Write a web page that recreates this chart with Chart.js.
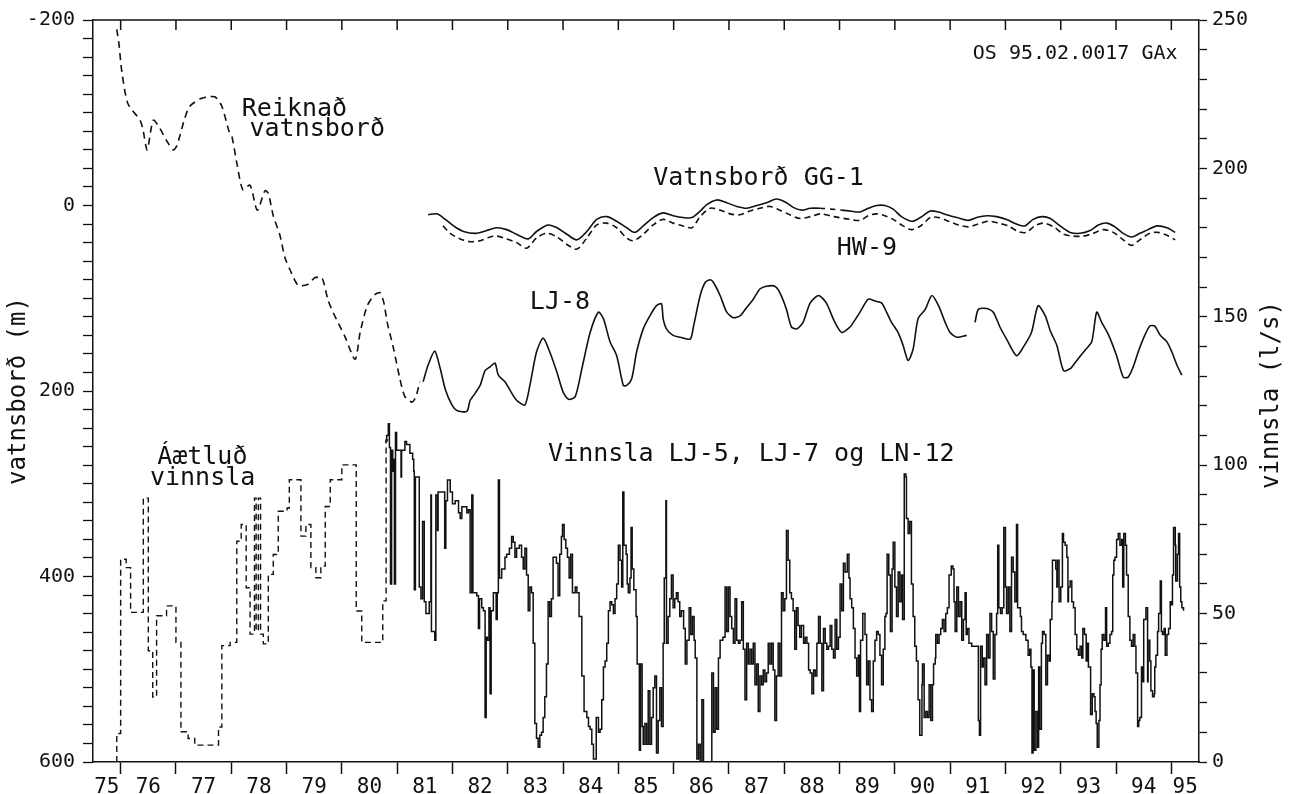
<!DOCTYPE html>
<html>
<head>
<meta charset="utf-8">
<title>Vatnsborð og vinnsla 1975-1995</title>
<script src="https://cdn.jsdelivr.net/npm/chart.js@4/dist/chart.umd.min.js"></script>
<style>
  html, body { margin: 0; padding: 0; background: #fff; }
  #wrap { width: 1300px; height: 794px; }
</style>
</head>
<body>
<div id="wrap"><canvas id="chart" width="1300" height="794"></canvas></div>
<script>
// year (decimal, 75 = 1975), value pairs
// vatnsborð series are in m (left axis), vinnsla series in l/s (right axis)

const yearLabels = ['75','76','77','78','79','80','81','82','83','84','85','86','87','88','89','90','91','92','93','94','95'];

const reiknad = [
  [75.93,-190],[75.97,-174],[76.02,-145],[76.13,-110],[76.35,-92],[76.40,-83],[76.48,-60],[76.59,-92],
  [76.71,-83],[76.84,-69],[76.95,-60],[77.02,-65],[77.07,-75],[77.16,-94],[77.25,-107],[77.44,-115],
  [77.58,-117],[77.71,-117],[77.83,-107],[77.96,-80],[78.01,-75],[78.10,-46],[78.21,-17],[78.34,-22],
  [78.47,5],[78.61,-16],[78.67,-13],[78.76,11],[78.88,32],[78.97,56],[79.06,69],[79.21,86],[79.39,85],
  [79.51,78],[79.64,78],[79.75,102],[79.84,115],[80.06,142],[80.24,166],[80.33,137],[80.46,108],
  [80.60,96],[80.69,94],[80.76,105],[80.82,126],[80.93,153],[81.05,187],[81.14,206],[81.27,212],
  [81.34,206],[81.41,190]
];

const lj8 = [
  [81.47,190],[81.56,172],[81.68,157],[81.78,176],[81.87,198],[81.99,215],[82.08,221],[82.26,222],
  [82.32,210],[82.38,205],[82.50,194],[82.59,178],[82.68,174],[82.77,170],[82.83,183],[82.95,190],
  [83.04,199],[83.16,210],[83.31,215],[83.40,194],[83.52,158],[83.64,143],[83.76,158],[83.89,180],
  [84.00,201],[84.10,209],[84.22,206],[84.34,176],[84.49,137],[84.64,115],[84.73,122],[84.85,147],
  [84.97,162],[85.09,194],[85.15,194],[85.24,187],[85.33,158],[85.45,133],[85.57,119],[85.69,108],
  [85.78,106],[85.81,122],[85.87,133],[85.99,140],[86.12,142],[86.30,144],[86.36,130],[86.48,97],
  [86.57,83],[86.66,80],[86.72,83],[86.84,97],[86.96,115],[87.08,121],[87.20,119],[87.32,110],
  [87.44,101],[87.56,90],[87.68,87],[87.83,87],[87.92,94],[88.04,112],[88.13,131],[88.23,133],
  [88.34,126],[88.47,105],[88.62,97],[88.76,105],[88.90,124],[89.04,137],[89.19,131],[89.25,126],
  [89.37,115],[89.52,101],[89.64,103],[89.76,105],[89.85,115],[89.94,126],[90.06,137],[90.15,151],
  [90.24,167],[90.33,155],[90.42,122],[90.55,112],[90.67,97],[90.79,108],[90.91,126],[91.00,137],
  [91.12,142],[91.30,140],[91.37,null],[91.45,126],[91.51,112],[91.66,111],[91.78,115],[91.90,131],
  [92.02,144],[92.20,162],[92.32,153],[92.47,137],[92.59,108],[92.72,119],[92.81,135],[92.93,151],
  [93.05,178],[93.17,176],[93.29,167],[93.44,156],[93.56,147],[93.65,115],[93.74,126],[93.86,139],
  [94.01,162],[94.13,185],[94.22,185],[94.31,174],[94.40,158],[94.49,144],[94.61,130],[94.70,130],
  [94.80,140],[94.92,147],[95.01,158],[95.10,172],[95.19,183]
];

// the missing stretch around 88.7-89.0 is bridged with a dashed line
const gg1 = [
  [81.56,10],[81.72,9],[81.87,15],[82.02,22],[82.20,28],[82.44,30],[82.62,27],[82.80,24],[82.98,26],
  [83.16,31],[83.37,36],[83.52,28],[83.73,21],[83.89,24],[84.07,31],[84.25,37],[84.43,28],[84.61,15],
  [84.79,12],[84.97,17],[85.15,24],[85.30,29],[85.45,22],[85.63,13],[85.81,8],[85.99,11],[86.17,13],
  [86.33,13],[86.48,6],[86.60,-1],[86.78,-6],[86.96,-3],[87.14,1],[87.32,3],[87.50,0],[87.68,-3],
  [87.86,-7],[88.04,-3],[88.16,2],[88.32,5],[88.47,3],[88.65,3],[88.85,null],[89.04,5],[89.19,6],
  [89.37,7],[89.52,3],[89.67,0],[89.82,0],[89.97,4],[90.12,12],[90.31,17],[90.46,13],[90.64,6],
  [90.79,7],[90.94,10],[91.12,13],[91.33,16],[91.48,13],[91.66,11],[91.84,12],[92.02,15],[92.20,20],
  [92.35,22],[92.50,15],[92.66,12],[92.81,14],[92.99,22],[93.17,29],[93.35,30],[93.53,27],[93.68,21],
  [93.83,19],[93.98,23],[94.13,30],[94.28,34],[94.43,30],[94.58,26],[94.74,22],[94.92,24],[95.07,29]
];

const hw9 = [
  [81.83,22],[81.96,30],[82.14,36],[82.32,39],[82.50,38],[82.68,34],[82.80,33],[82.98,36],[83.16,40],
  [83.34,46],[83.52,35],[83.70,30],[83.89,34],[84.07,42],[84.25,47],[84.43,35],[84.61,21],[84.79,19],
  [84.97,24],[85.15,35],[85.27,38],[85.45,31],[85.63,21],[85.81,15],[85.99,19],[86.17,22],[86.33,24],
  [86.48,12],[86.66,3],[86.84,5],[87.02,9],[87.20,10],[87.38,6],[87.56,3],[87.74,1],[87.92,5],
  [88.10,10],[88.29,14],[88.47,12],[88.65,9],[88.90,12],[89.19,15],[89.37,16],[89.52,11],[89.67,9],
  [89.82,11],[89.97,15],[90.15,22],[90.31,26],[90.49,21],[90.64,13],[90.79,13],[90.97,17],[91.15,21],
  [91.33,23],[91.51,20],[91.69,17],[91.87,19],[92.05,22],[92.23,28],[92.38,29],[92.53,22],[92.68,19],
  [92.87,23],[93.05,31],[93.23,33],[93.41,33],[93.59,30],[93.77,26],[93.95,29],[94.13,37],[94.28,43],
  [94.43,37],[94.61,30],[94.76,29],[94.92,32],[95.07,37]
];

// estimated production before metering (stepped)
const aetlud = [
  [75.93,0],[75.93,9.6],[76.00,68.3],[76.10,65.5],[76.18,50.4],[76.41,88.9],[76.50,37.5],[76.58,21.9],
  [76.65,49.3],[76.83,52.6],[77.00,40.3],[77.09,10.2],[77.22,7.9],[77.34,5.7],[77.77,11.8],[77.83,39.2],
  [77.98,40.3],[78.10,74.4],[78.18,80.0],[78.27,58.7],[78.34,43.1],[78.42,88.9],[78.45,44.2],[78.49,88.9],
  [78.53,43.1],[78.58,39.8],[78.67,63.2],[78.76,69.9],[78.85,84.5],[79.01,85.6],[79.05,95.1],[79.26,76.1],
  [79.35,80.0],[79.44,65.5],[79.53,62.1],[79.62,66.0],[79.70,86.1],[79.79,95.1],[80.00,100.1],[80.26,50.9],
  [80.36,40.3],[80.74,54.3],[80.80,108.5],[80.84,108.5]
];

// metered production LJ-5, LJ-7 og LN-12 (stepped)
const vinnsla = [
  [80.78,108],[80.81,110],[80.84,114],[80.86,106],[80.88,60],[80.90,105],[80.92,98],[80.93,102],[80.95,60],
  [80.97,111],[80.99,105],[81.05,105],[81.07,96],[81.08,105],[81.14,108],[81.17,107],[81.23,104],[81.28,102],
  [81.30,98],[81.31,58],[81.33,96],[81.38,96],[81.40,59],[81.43,55],[81.46,81],[81.49,54],[81.52,50],
  [81.58,54],[81.61,90],[81.62,44],[81.65,44],[81.68,41],[81.70,90],[81.73,78],[81.74,91],[81.80,91],
  [81.83,91],[81.86,72],[81.88,88],[81.91,95],[81.96,91],[82.00,87],[82.05,88],[82.11,84],[82.14,82],
  [82.17,86],[82.23,86],[82.26,84],[82.29,85],[82.32,57],[82.35,90],[82.37,57],[82.44,56],[82.47,45],
  [82.49,55],[82.53,52],[82.56,51],[82.59,15],[82.61,42],[82.63,41],[82.66,52],[82.68,23],[82.70,51],
  [82.74,57],[82.79,48],[82.81,57],[82.83,95],[82.85,62],[82.89,65],[82.95,69],[82.98,70],[83.03,72],
  [83.07,76],[83.10,74],[83.13,69],[83.16,72],[83.21,73],[83.25,69],[83.28,65],[83.31,72],[83.34,63],
  [83.37,51],[83.40,59],[83.43,57],[83.46,40],[83.49,13],[83.52,8],[83.55,5],[83.58,9],[83.61,10],
  [83.64,15],[83.67,22],[83.70,33],[83.73,54],[83.76,49],[83.79,55],[83.82,69],[83.85,69],[83.88,67],
  [83.91,56],[83.94,70],[83.97,76],[83.99,80],[84.02,75],[84.05,72],[84.08,69],[84.11,62],[84.14,70],
  [84.17,57],[84.22,59],[84.25,57],[84.29,49],[84.34,29],[84.38,17],[84.43,15],[84.46,12],[84.49,11],
  [84.52,6],[84.55,1],[84.58,1],[84.60,15],[84.64,10],[84.67,11],[84.70,21],[84.73,32],[84.76,34],
  [84.79,40],[84.82,51],[84.85,54],[84.88,53],[84.91,50],[84.94,55],[84.97,60],[85.00,73],[85.03,68],
  [85.06,59],[85.08,91],[85.10,73],[85.14,70],[85.16,60],[85.18,57],[85.21,62],[85.23,79],[85.25,65],
  [85.28,58],[85.32,49],[85.34,33],[85.37,33],[85.38,4],[85.40,33],[85.43,12],[85.45,6],[85.48,13],
  [85.51,6],[85.54,24],[85.57,6],[85.60,15],[85.63,25],[85.66,29],[85.69,3],[85.72,14],[85.75,25],
  [85.78,12],[85.81,40],[85.83,62],[85.86,88],[85.87,40],[85.90,49],[85.93,55],[85.96,63],[85.99,52],
  [86.02,55],[86.05,57],[86.08,54],[86.11,49],[86.14,51],[86.18,45],[86.21,33],[86.24,41],[86.28,52],
  [86.31,43],[86.34,49],[86.37,41],[86.39,35],[86.42,1],[86.45,6],[86.48,0],[86.51,21],[86.54,0],
  [86.66,0],[86.69,30],[86.72,10],[86.75,25],[86.78,11],[86.81,35],[86.84,41],[86.89,42],[86.93,59],
  [86.96,44],[86.99,59],[87.02,49],[87.05,45],[87.08,40],[87.11,55],[87.14,41],[87.17,40],[87.20,41],
  [87.23,54],[87.26,38],[87.29,21],[87.32,40],[87.35,33],[87.38,38],[87.41,33],[87.44,40],[87.47,26],
  [87.50,33],[87.53,17],[87.56,29],[87.59,26],[87.62,31],[87.65,27],[87.68,30],[87.71,40],[87.74,33],
  [87.77,40],[87.80,31],[87.83,14],[87.86,29],[87.89,40],[87.92,29],[87.95,57],[87.98,51],[88.01,55],
  [88.04,78],[88.07,68],[88.10,57],[88.13,55],[88.16,51],[88.19,38],[88.22,52],[88.25,46],[88.28,42],
  [88.31,46],[88.35,40],[88.38,42],[88.41,40],[88.44,31],[88.47,30],[88.50,23],[88.53,31],[88.56,29],
  [88.59,40],[88.62,49],[88.65,40],[88.68,24],[88.71,45],[88.74,40],[88.77,38],[88.80,39],[88.83,46],
  [88.86,38],[88.89,35],[88.92,48],[88.95,38],[88.98,42],[89.01,60],[89.04,51],[89.07,67],[89.10,64],
  [89.14,70],[89.17,62],[89.19,55],[89.22,52],[89.25,45],[89.28,35],[89.31,29],[89.34,36],[89.36,17],
  [89.38,41],[89.42,50],[89.46,43],[89.49,26],[89.52,34],[89.55,21],[89.58,17],[89.61,34],[89.64,41],
  [89.67,44],[89.70,43],[89.73,36],[89.76,26],[89.79,38],[89.82,49],[89.84,50],[89.86,70],[89.89,63],
  [89.92,44],[89.95,65],[89.97,74],[90.00,59],[90.03,49],[90.06,64],[90.09,54],[90.12,63],[90.14,48],
  [90.17,97],[90.20,96],[90.21,82],[90.24,77],[90.27,81],[90.30,60],[90.33,49],[90.36,39],[90.39,34],
  [90.42,21],[90.45,9],[90.49,26],[90.50,33],[90.53,15],[90.56,17],[90.59,15],[90.62,26],[90.65,14],
  [90.68,26],[90.70,33],[90.73,35],[90.74,43],[90.77,40],[90.80,43],[90.83,45],[90.86,48],[90.89,44],
  [90.92,50],[90.95,52],[90.98,63],[91.02,66],[91.05,65],[91.07,54],[91.09,44],[91.12,59],[91.15,49],
  [91.18,54],[91.21,41],[91.24,48],[91.27,57],[91.29,43],[91.31,45],[91.34,40],[91.39,39],[91.48,39],
  [91.51,14],[91.53,9],[91.55,39],[91.58,32],[91.60,35],[91.63,26],[91.66,43],[91.69,35],[91.72,50],
  [91.75,44],[91.78,28],[91.81,43],[91.84,50],[91.86,73],[91.88,52],[91.91,50],[91.94,52],[91.97,79],
  [92.00,59],[92.02,50],[92.05,59],[92.08,44],[92.11,69],[92.14,64],[92.17,54],[92.20,80],[92.22,52],
  [92.25,52],[92.27,49],[92.29,44],[92.32,43],[92.37,41],[92.41,36],[92.44,38],[92.46,32],[92.48,3],
  [92.50,31],[92.52,4],[92.55,17],[92.58,5],[92.60,32],[92.62,11],[92.65,40],[92.67,44],[92.70,43],
  [92.73,26],[92.76,36],[92.79,34],[92.81,48],[92.84,54],[92.85,68],[92.88,68],[92.91,65],[92.93,59],
  [92.94,68],[92.97,54],[93.00,59],[93.03,77],[93.05,74],[93.08,73],[93.11,69],[93.13,54],[93.14,59],
  [93.17,61],[93.20,54],[93.23,52],[93.26,43],[93.29,38],[93.32,36],[93.35,39],[93.38,35],[93.40,45],
  [93.43,43],[93.46,34],[93.48,40],[93.50,32],[93.54,16],[93.57,23],[93.60,22],[93.62,17],[93.64,13],
  [93.66,5],[93.69,14],[93.71,26],[93.73,38],[93.75,43],[93.78,41],[93.81,52],[93.83,39],[93.86,40],
  [93.89,43],[93.92,44],[93.94,63],[93.96,68],[93.98,69],[94.01,75],[94.04,77],[94.07,73],[94.10,75],
  [94.12,59],[94.14,77],[94.17,73],[94.19,63],[94.22,49],[94.25,41],[94.28,39],[94.31,43],[94.34,39],
  [94.36,30],[94.39,12],[94.41,14],[94.43,15],[94.46,32],[94.48,27],[94.50,48],[94.52,48],[94.54,52],
  [94.57,27],[94.58,41],[94.61,34],[94.63,24],[94.66,22],[94.69,23],[94.70,32],[94.72,36],[94.75,44],
  [94.77,50],[94.80,61],[94.82,44],[94.84,43],[94.87,45],[94.89,36],[94.92,43],[94.95,45],[94.98,54],
  [95.00,53],[95.02,63],[95.04,79],[95.07,73],[95.08,61],[95.11,70],[95.13,77],[95.15,59],[95.17,54],
  [95.19,52],[95.22,51]
];

const X_MIN = 75.5, X_MAX = 95.5;
const FONT = "'DejaVu Sans Mono', monospace";
const INK = '#111';

Chart.defaults.font.family = FONT;
Chart.defaults.color = INK;

// year labels sit in the middle of each (visible part of the) year
const labelAt = {};
yearLabels.forEach(l => {
  const yr = Number(l);
  const a = Math.max(yr, X_MIN), b = Math.min(yr + 1, X_MAX);
  labelAt[((a + b) / 2).toFixed(2)] = l;
});

const pts = arr => arr.map(([x, y]) => ({ x, y }));

// text placed in data units (year, vatnsborð m)
const notes = [
  { text: 'Reiknað', x: 78.19, y: -96, size: 25 },
  { text: 'vatnsborð', x: 78.33, y: -75, size: 25 },
  { text: 'Vatnsborð GG-1', x: 85.63, y: -22, size: 25 },
  { text: 'HW-9', x: 88.95, y: 53, size: 25 },
  { text: 'LJ-8', x: 83.40, y: 112, size: 25 },
  { text: 'Áætluð', x: 76.66, y: 279, size: 25 },
  { text: 'vinnsla', x: 76.53, y: 301, size: 25 },
  { text: 'Vinnsla LJ-5, LJ-7 og LN-12', x: 83.73, y: 276, size: 25 },
  { text: 'OS 95.02.0017 GAx', x: 91.41, y: -158, size: 20 }
];

const frame = {
  id: 'frame',
  afterDraw(chart) {
    const { ctx, chartArea: a, scales } = chart;
    ctx.save();
    ctx.strokeStyle = INK;
    ctx.lineWidth = 1.5;
    // top border with inward year ticks
    ctx.beginPath();
    ctx.moveTo(a.left, a.top);
    ctx.lineTo(a.right, a.top);
    for (let yr = Math.ceil(X_MIN); yr <= X_MAX; yr++) {
      const px = scales.x.getPixelForValue(yr);
      ctx.moveTo(px, a.top);
      ctx.lineTo(px, a.top + 10);
    }
    ctx.stroke();

    ctx.fillStyle = INK;
    ctx.textAlign = 'left';
    ctx.textBaseline = 'alphabetic';
    notes.forEach(n => {
      ctx.font = n.size + 'px ' + FONT;
      ctx.fillText(n.text, scales.x.getPixelForValue(n.x), scales.y.getPixelForValue(n.y));
    });

    // right axis title reads bottom to top
    ctx.font = '24px ' + FONT;
    ctx.textAlign = 'center';
    ctx.textBaseline = 'middle';
    ctx.translate(1272, (a.top + a.bottom) / 2 + 4);
    ctx.rotate(-Math.PI / 2);
    ctx.fillText('vinnsla (l/s)', 0, 0);
    ctx.restore();
  }
};

const lineBase = { pointRadius: 0, borderColor: INK, borderWidth: 1.6, fill: false, spanGaps: false };

new Chart(document.getElementById('chart'), {
  type: 'line',
  data: {
    datasets: [
      { ...lineBase, label: 'Reiknað vatnsborð', data: pts(reiknad), yAxisID: 'y', borderDash: [7, 5], tension: 0.25 },
      { ...lineBase, label: 'LJ-8', data: pts(lj8), yAxisID: 'y', tension: 0.25 },
      {
        ...lineBase, label: 'Vatnsborð GG-1', data: pts(gg1), yAxisID: 'y', tension: 0.3, spanGaps: true,
        segment: { borderDash: c => (c.p0.skip || c.p1.skip) ? [5, 5] : undefined }
      },
      { ...lineBase, label: 'HW-9', data: pts(hw9), yAxisID: 'y', borderDash: [6, 4], tension: 0.3 },
      { ...lineBase, label: 'Áætluð vinnsla', data: pts(aetlud), yAxisID: 'y2', borderDash: [6, 4], stepped: true, borderWidth: 1.4 },
      { ...lineBase, label: 'Vinnsla LJ-5, LJ-7 og LN-12', data: pts(vinnsla), yAxisID: 'y2', stepped: true, borderWidth: 1.5 }
    ]
  },
  options: {
    responsive: false,
    animation: false,
    events: [],
    layout: { padding: { top: 16, left: 0, right: 0, bottom: 0 } },
    plugins: { legend: { display: false }, tooltip: { enabled: false } },
    scales: {
      x: {
        type: 'linear',
        min: X_MIN,
        max: X_MAX,
        afterBuildTicks(scale) {
          const t = [];
          for (let yr = Math.ceil(X_MIN); yr <= X_MAX; yr++) t.push({ value: yr });
          Object.keys(labelAt).forEach(k => t.push({ value: Number(k) }));
          t.sort((p, q) => p.value - q.value);
          scale.ticks = t;
        },
        afterFit(scale) { scale.height = 32; },
        ticks: {
          autoSkip: false, maxRotation: 0, minRotation: 0, padding: 1, color: INK,
          font: { size: 21 },
          callback: v => labelAt[Number(v).toFixed(2)] || ''
        },
        grid: {
          drawOnChartArea: false, tickLength: 12, tickWidth: 1.5,
          tickColor: c => (c.tick && Number.isInteger(c.tick.value)) ? INK : 'rgba(0,0,0,0)'
        },
        border: { color: INK, width: 1.5 }
      },
      y: {
        type: 'linear',
        position: 'left',
        reverse: true,
        min: -200,
        max: 600,
        afterFit(scale) { scale.width = 93; },
        ticks: {
          stepSize: 20, autoSkip: false, padding: 8, color: INK, font: { size: 20 },
          callback: v => (v % 200 === 0 ? String(v) : '')
        },
        grid: { drawOnChartArea: false, tickLength: 10, tickWidth: 1.3, tickColor: INK },
        border: { color: INK, width: 1.5 },
        title: { display: true, text: 'vatnsborð (m)', color: INK, font: { size: 24 }, padding: { top: 4, bottom: 0 } }
      },
      y2: {
        type: 'linear',
        position: 'right',
        min: 0,
        max: 250,
        afterFit(scale) { scale.width = 101; },
        ticks: {
          stepSize: 10, autoSkip: false, padding: 5, color: INK, font: { size: 20 },
          callback: v => (v % 50 === 0 ? String(v) : '')
        },
        grid: { drawOnChartArea: false, tickLength: 8, tickWidth: 1.3, tickColor: INK },
        border: { color: INK, width: 1.5 }
      }
    }
  },
  plugins: [frame]
});
</script>
</body>
</html>
